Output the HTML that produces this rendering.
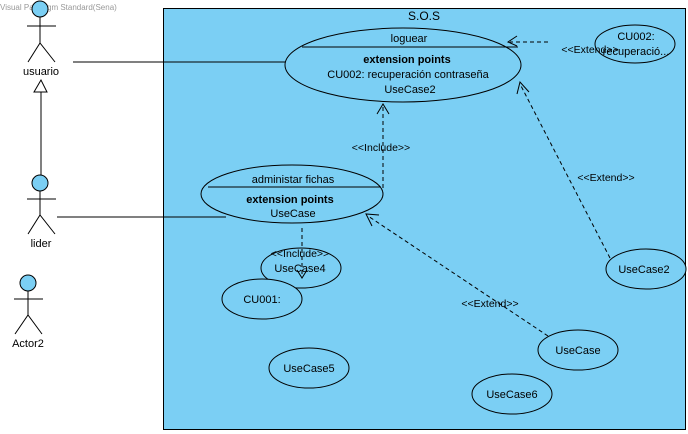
<!DOCTYPE html>
<html><head><meta charset="utf-8"><style>html,body{margin:0;padding:0;background:#fff;width:688px;height:434px;overflow:hidden}</style></head>
<body>
<svg width="688" height="434" xmlns="http://www.w3.org/2000/svg" font-family="Liberation Sans, sans-serif" font-size="11" fill="none" stroke="#000">
<text x="0" y="10" font-size="8" fill="#999" stroke="none">Visual Paradigm Standard(Sena)</text>
<rect x="163.5" y="8.5" width="522" height="421" fill="#7BCFF4" stroke="#000"/>
<text x="424" y="20" text-anchor="middle" fill="#000" stroke="none" font-size="12">S.O.S</text>

<g stroke="#000" stroke-width="1">
<circle cx="40" cy="9" r="8" fill="#7BCFF4"/>
<line x1="40" y1="17" x2="40" y2="43"/><line x1="27" y1="26" x2="56" y2="26"/>
<polyline points="28,62 40,43 55,62"/>
<circle cx="40" cy="183" r="8" fill="#7BCFF4"/>
<line x1="40" y1="191" x2="40" y2="215"/><line x1="27" y1="199" x2="56" y2="199"/>
<polyline points="28,234 40,215 55,234"/>
<circle cx="28" cy="283" r="8" fill="#7BCFF4"/>
<line x1="28" y1="291" x2="28" y2="315"/><line x1="14" y1="299" x2="43" y2="299"/>
<polyline points="15,334 28,315 42,334"/>
<line x1="41" y1="92" x2="41" y2="175"/>
<polygon points="41,80 34,92 47,92" fill="#fff"/>
<line x1="73" y1="62" x2="286" y2="62"/>
<line x1="57" y1="217" x2="226" y2="217"/>
</g>
<g fill="#000" stroke="none" text-anchor="middle">
<text x="41" y="75">usuario</text>
<text x="41" y="247">lider</text>
<text x="28" y="347">Actor2</text>
</g>

<ellipse cx="403" cy="65" rx="118" ry="37" fill="#7BCFF4"/>
<line x1="302" y1="47" x2="518" y2="47"/>
<g fill="#000" stroke="none" text-anchor="middle">
<text x="409" y="42">loguear</text>
<text x="407" y="63" font-weight="bold">extension points</text>
<text x="408" y="78">CU002: recuperación contraseña</text>
<text x="410" y="93">UseCase2</text>
</g>

<ellipse cx="292" cy="194" rx="91" ry="29" fill="#7BCFF4"/>
<line x1="208" y1="187" x2="381" y2="187"/>
<g fill="#000" stroke="none" text-anchor="middle">
<text x="293" y="183">administar fichas</text>
<text x="290" y="203" font-weight="bold">extension points</text>
<text x="293" y="217">UseCase</text>
</g>

<g fill="#7BCFF4">
<ellipse cx="635" cy="44" rx="40" ry="19"/>
<ellipse cx="301" cy="268" rx="40" ry="20"/>
<ellipse cx="262" cy="299" rx="40" ry="20"/>
<ellipse cx="309" cy="368" rx="40" ry="20"/>
<ellipse cx="512" cy="394" rx="40" ry="20"/>
<ellipse cx="578" cy="350" rx="40" ry="20"/>
<ellipse cx="646" cy="269" rx="40" ry="20"/>
</g>

<g stroke-dasharray="4,3">
<line x1="548" y1="42" x2="510" y2="42"/>
<line x1="383" y1="188" x2="383" y2="106"/>
<line x1="302" y1="228" x2="302" y2="274"/>
<line x1="548" y1="336" x2="368" y2="216"/>
<line x1="610" y1="258" x2="520" y2="84"/>
</g>
<g>
<polyline points="517,36 508,42 517,46"/>
<polyline points="377,114 383,104 389,114"/>
<polyline points="297,270 302,278 307,270"/>
<polyline points="372,226 366,214 379,215"/>
<polyline points="517,94 520,82 529,92"/>
</g>
<g fill="#000" stroke="none" text-anchor="middle" font-size="10.5">
<text x="590" y="53">&lt;&lt;Extend&gt;&gt;</text>
<text x="381" y="151">&lt;&lt;Include&gt;&gt;</text>
<text x="300" y="257">&lt;&lt;Include&gt;&gt;</text>
<text x="490" y="307">&lt;&lt;Extend&gt;&gt;</text>
<text x="606" y="181">&lt;&lt;Extend&gt;&gt;</text>
</g>
<g fill="#000" stroke="none" text-anchor="middle">
<text x="636" y="40">CU002:</text>
<text x="636" y="55">recuperació...</text>
<text x="300" y="272">UseCase4</text>
<text x="262" y="303">CU001:</text>
<text x="309" y="372">UseCase5</text>
<text x="512" y="398">UseCase6</text>
<text x="578" y="354">UseCase</text>
<text x="644" y="273">UseCase2</text>
</g>
</svg>
</body></html>
